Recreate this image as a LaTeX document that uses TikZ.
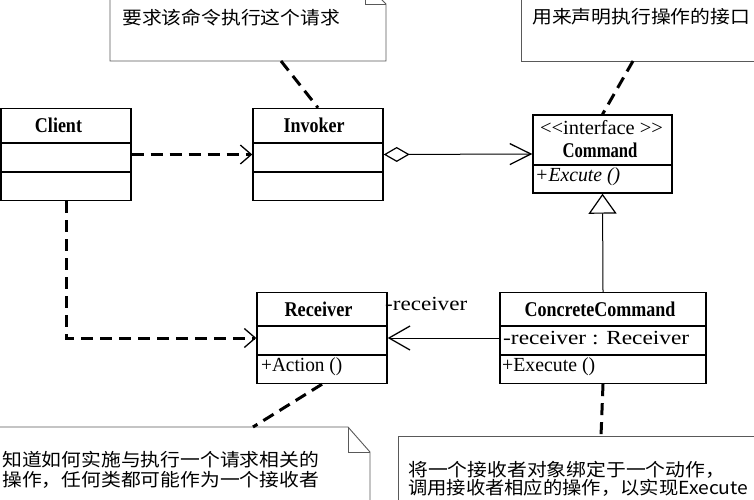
\documentclass[tikz,border=0pt]{standalone}
\usepackage{fontspec}
\setmainfont{Liberation Serif}
\newfontfamily\cjk{Noto Sans CJK SC}
\usetikzlibrary{arrows.meta}
\newcommand{\cjktext}[1]{\scalebox{1.1}[1]{\cjk\fontsize{18}{20}\selectfont #1}}
\newcommand{\fitw}[2]{\resizebox{#1}{\height}{#2}}
\begin{document}
\begin{tikzpicture}[x=1pt,y=-1pt,
  cls/.style={draw, line width=1.4pt, inner sep=0pt, fill=white},
  divider/.style={line width=1.4pt},
  notebox/.style={draw=black!65, line width=0.9pt},
  notelink/.style={line width=3pt, dash pattern=on 12pt off 7pt},
  dep/.style={line width=3pt, dash pattern=on 12pt off 7pt,
    -{Straight Barb[length=11pt,width=19pt,line width=1.3pt]}},
  assoc/.style={line width=1pt,
    -{Straight Barb[length=21pt,width=24pt,line width=1.3pt]}},
  agg/.style={line width=1pt,
    {Diamond[open,length=26pt,width=15pt,line width=1.2pt]}-{Straight Barb[length=21pt,width=21pt,line width=1.3pt]}},
  gen/.style={line width=1pt, -{Triangle[open,length=20pt,width=28pt,line width=1.2pt]}},
  bname/.style={inner sep=0pt, font=\fontsize{21}{23}\selectfont\bfseries},
  mtext/.style={inner sep=0pt, anchor=west, font=\fontsize{20}{22}\selectfont},
  ntext/.style={inner sep=0pt, anchor=west}
]
\useasboundingbox (0,0) rectangle (754,499);
\clip (0,0) rectangle (754,499);
\fill[white] (0,0) rectangle (754,499);

% ---------- notes ----------
\draw[notebox] (110,-30) -- (110,61) -- (386,61) -- (386,4) -- (365,-17) -- (110,-17);
\draw[notebox] (365,-17) -- (365,4) -- (386,4);
\draw[notebox] (521,-10) -- (521,61) -- (770,61);
\draw[notebox] (-10,427) -- (348,427) -- (370,452) -- (370,520);
\draw[notebox] (348,427) -- (348,452) -- (370,452);
\draw[notebox] (770,436) -- (398,436) -- (398,520);

\node[ntext] (n1t) at (122,18) {\cjktext{要求该命令执行这个请求}};
\node[ntext] (n2t) at (532,17) {\cjktext{用来声明执行操作的接口}};
\node[ntext] (n3a) at (2,460) {\cjktext{知道如何实施与执行一个请求相关的}};
\node[ntext] (n3b) at (2,480) {\cjktext{操作，任何类都可能作为一个接收者}};
\node[ntext] (n4a) at (408,470) {\cjktext{将一个接收者对象绑定于一个动作，}};
\node[ntext] (n4b) at (408,488) {\fitw{340pt}{\cjk\fontsize{18}{20}\selectfont 调用接收者相应的操作，以实现Execute}};

\coordinate (n1) at (281,61);
\coordinate (n2) at (633,61);
\coordinate (n3) at (253,427);
\coordinate (n4) at (601,436);

% ---------- classes ----------
\node[cls, minimum width=130pt, minimum height=92pt] (client) at (66,154.5) {};
\draw[divider] (1,143) -- (131,143);
\draw[divider] (1,172) -- (131,172);
\node[bname] (clientT) at (58.5,125) {\fitw{47pt}{Client}};

\node[cls, minimum width=130pt, minimum height=92pt] (invoker) at (318,154.5) {};
\draw[divider] (253,143) -- (383,143);
\draw[divider] (253,172) -- (383,172);
\node[bname] (invokerT) at (314,125) {\fitw{61pt}{Invoker}};

\node[cls, minimum width=139pt, minimum height=78pt] (command) at (602.5,154) {};
\draw[divider] (533,165) -- (672,165);
\node[inner sep=0pt, font=\fontsize{20}{22}\selectfont] (commandI) at (601.5,128) {\fitw{123pt}{<\kern0pt<interface >\kern0pt>}};
\node[bname] (commandT) at (600,150) {\fitw{75pt}{Command}};
\node[mtext] (commandOp) at (535,177) {\fitw{85pt}{\itshape +Excute ()}};

\node[cls, minimum width=130pt, minimum height=91pt] (receiver) at (322,338) {};
\draw[divider] (257,326) -- (387,326);
\draw[divider] (257,355) -- (387,355);
\node[bname] (receiverT) at (318.5,309) {\fitw{68pt}{Receiver}};
\node[mtext] (receiverOp) at (261,367) {\fitw{81pt}{+Action ()}};

\node[cls, minimum width=206pt, minimum height=91pt] (cc) at (603,338) {};
\draw[divider] (500,326) -- (706,326);
\draw[divider] (500,355) -- (706,355);
\node[bname] (ccT) at (600,309) {\fitw{151pt}{ConcreteCommand}};
\node[mtext] (ccAttr) at (503,338) {\fitw{186pt}{-receiver : Receiver}};
\node[mtext] (ccOp) at (502,367) {\fitw{93pt}{+Execute ()}};

\node[mtext] (assocL) at (385,304) {\fitw{82pt}{-receiver}};

% ---------- connectors ----------
\draw[dep] (client.east) -- (invoker.west);
\draw[agg] (invoker.east) -- (command.west);
\draw[gen] (cc.north) -- (command.south);
\draw[assoc] (cc.west) -- (receiver.west -| receiver.east);
\draw[dep] (client.south) |- (receiver.west);

\draw[notelink] (n1) -- (invoker.north);
\draw[notelink] (n2) -- (command.north);
\draw[notelink] (receiver.south) -- (n3);
\draw[notelink] (cc.south) -- (n4);
\end{tikzpicture}
\end{document}
